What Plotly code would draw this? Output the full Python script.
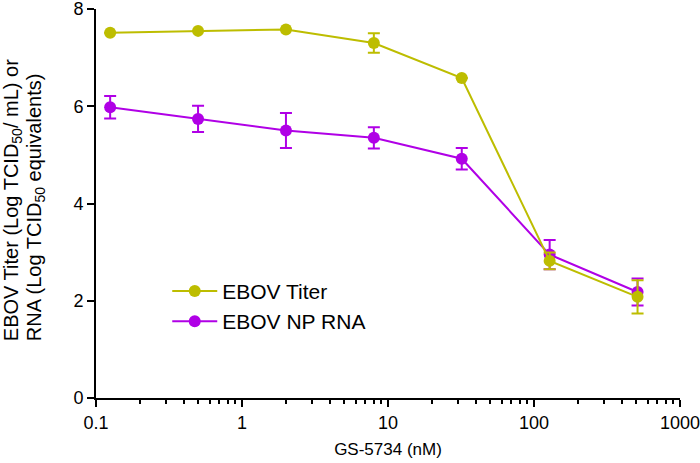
import plotly.graph_objects as go

conc = [0.125, 0.5, 2, 8, 32, 128, 512]
titer = [7.51, 7.55, 7.58, 7.30, 6.58, 2.82, 2.08]
titer_err = [0.0, 0.0, 0.0, 0.20, 0.0, 0.17, 0.34]
rna = [5.98, 5.74, 5.50, 5.35, 4.92, 2.95, 2.18]
rna_err = [0.23, 0.27, 0.36, 0.22, 0.22, 0.30, 0.28]
x_ticks = [0.1, 1, 10, 100, 1000]
x_ticktext = ["0.1", "1", "10", "100", "1000"]
y_ticks = [0, 2, 4, 6, 8]
minor_vals = [m * d for d in [0.1, 1, 10, 100] for m in range(2, 10)]
y_title_lines = ["EBOV Titer (Log TCID<sub>50</sub>/ mL) or",
                 "RNA (Log TCID<sub>50</sub> equivalents)"]

yellow = "#BDBD00"
purple = "#B000E6"

fig = go.Figure()
fig.add_trace(go.Scatter(
    x=conc, y=rna, name="EBOV NP RNA", mode="lines+markers",
    line=dict(color=purple, width=2), marker=dict(size=12, color=purple),
    error_y=dict(type="data", array=rna_err, visible=True, color=purple, thickness=2, width=6),
    legendrank=2, legendgroup="b"))
fig.add_trace(go.Scatter(
    x=conc, y=titer, name="EBOV Titer", mode="lines+markers",
    line=dict(color=yellow, width=2), marker=dict(size=12, color=yellow),
    error_y=dict(type="data", array=titer_err, visible=True, color=yellow, thickness=2, width=6),
    legendrank=1, legendgroup="a"))

font = "Liberation Sans, Arial, sans-serif"
for txt, shift in zip(y_title_lines, [-84, -61]):
    fig.add_annotation(text=txt, xref="paper", yref="paper", x=0, y=0.141,
                       xshift=shift, xanchor="center", yanchor="bottom",
                       textangle=-90, showarrow=False, font=dict(size=20))

fig.update_layout(
    width=700, height=463,
    margin=dict(l=96, r=20, t=9, b=65),
    paper_bgcolor="white", plot_bgcolor="white",
    font=dict(family=font, size=17, color="#000"),
    showlegend=True,
    legend=dict(x=0.122, y=0.327, xanchor="left", yanchor="top",
                font=dict(size=21), traceorder="grouped", tracegroupgap=0,
                itemwidth=45, bgcolor="rgba(0,0,0,0)"),
    xaxis=dict(type="log", range=[-1, 3], tickvals=x_ticks, ticktext=x_ticktext,
               ticks="outside", ticklen=7, tickwidth=2, tickcolor="#000",
               ticklabeloverflow="allow", automargin=False,
               showline=True, linecolor="#000", linewidth=2, showgrid=False, zeroline=False,
               minor=dict(tickvals=minor_vals, ticks="outside", ticklen=4, tickwidth=1.5,
                          tickcolor="#000", showgrid=False),
               title=dict(text="GS-5734 (nM)", font=dict(size=17), standoff=12),
               tickfont=dict(size=18)),
    yaxis=dict(range=[0, 8], tickvals=y_ticks, ticks="outside", ticklen=7, tickwidth=2,
               tickcolor="#000", showline=True, linecolor="#000", linewidth=2,
               ticklabeloverflow="allow", automargin=False,
               showgrid=False, zeroline=False, tickfont=dict(size=18)),
)
fig.write_html("out.html", config={"displayModeBar": False},
               post_script="document.body.style.margin='0';")
